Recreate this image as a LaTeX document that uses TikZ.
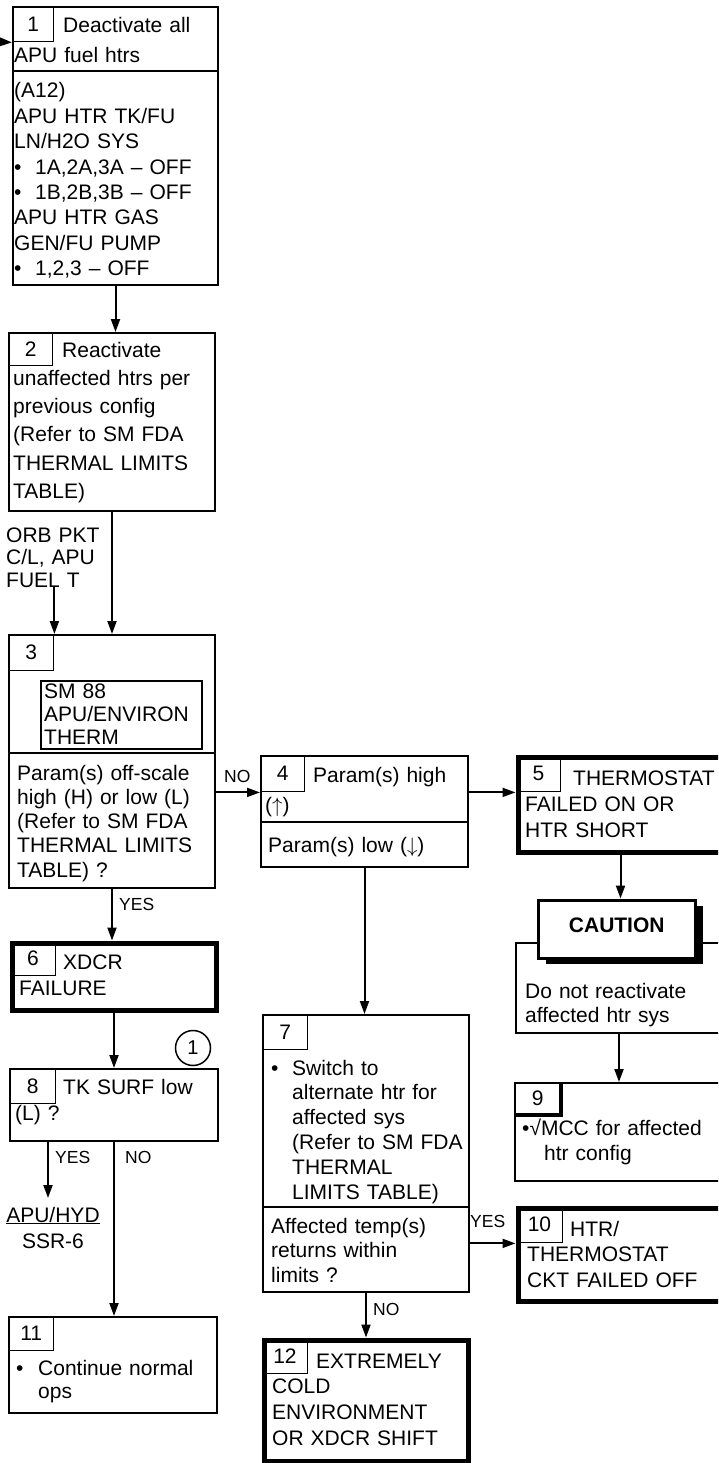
\documentclass[tikz,border=0pt]{standalone}
\usepackage{fontspec}
\setmainfont{Liberation Sans}
\usetikzlibrary{arrows.meta,shadows}
\newcommand{\blt}{\makebox[21pt][l]{•}}
\tikzset{
	stepbox/.style={draw, line width=2pt, rectangle, anchor=north west, inner sep=0pt},
	endbox/.style={stepbox, line width=5pt},
	numbox/.style={draw, line width=1.4pt, rectangle, anchor=north west, inner sep=0pt,
		font=\fontsize{21}{25}\selectfont},
	txt/.style={anchor=base west, inner sep=0pt, text width=250pt, align=left,
		font=\fontsize{21}{#1}\selectfont},
	txt/.default=25.4,
	lbl/.style={anchor=base west, inner sep=0pt, font=\fontsize{17.5}{20}\selectfont},
	arr/.style={line width=2pt, -{Triangle[length=13pt,width=9pt]}}
}

\begin{document}
\begin{tikzpicture}[x=1pt, y=-1pt]
			\useasboundingbox (0,0) rectangle (718,1463);
			\fill[white] (0,0) rectangle (718,1463);
			\clip (0,0) rectangle (718,1463);
			% left column
			\node[stepbox, minimum width=205pt, minimum height=278pt] (s1) at (12,6) {};
			\node[numbox, minimum width=41pt, minimum height=35pt] (n1) at (s1.north west) {1};
			\draw[line width=2pt] (s1.west |- 0,71) -- (s1.east |- 0,71);
			\node[txt] (t1a) at (14,33) {\hspace*{49pt}Deactivate all\\[4pt]APU fuel htrs};
			\node[txt] (t1b) at (14,98) {(A12)\\APU HTR TK/FU\\LN/H2O SYS\\\blt 1A,2A,3A – OFF\\\blt 1B,2B,3B – OFF\\APU HTR GAS\\GEN/FU PUMP\\\blt 1,2,3 – OFF};
			
			\node[stepbox, minimum width=206pt, minimum height=178pt] (s2) at (8,332) {};
			\node[numbox, minimum width=44pt, minimum height=33pt] (n2) at (s2.north west) {2};
			\node[txt=28.3] (t2) at (13,357) {\hspace*{49pt}Reactivate\\unaffected htrs per\\previous config\\(Refer to SM FDA\\THERMAL LIMITS\\TABLE)};
			
			\node[txt=22.5] (orb) at (6,542) {ORB PKT\\C/L, APU\\FUEL T};
			
			\node[stepbox, minimum width=206pt, minimum height=253pt] (s3) at (8,634) {};
			\node[numbox, minimum width=45pt, minimum height=36pt] (n3) at (s3.north west) {3};
			\node[stepbox, minimum width=161pt, minimum height=68pt] (sm) at (40,680) {};
			\node[txt=23] (tsm) at (44,698) {SM 88\\APU/ENVIRON\\THERM};
			\draw[line width=2pt] (s3.west |- 0,753) -- (s3.east |- 0,753);
			\node[txt=24.3] (t3) at (17,780) {Param(s) off-scale\\high (H) or low (L)\\(Refer to SM FDA\\THERMAL LIMITS\\TABLE) ?};
			
			\node[endbox, minimum width=204pt, minimum height=67pt] (s6) at (9.5,940.5) {};
			\node[numbox, minimum width=45.5pt, minimum height=34.5pt] (n6) at (s6.north west) {6};
			\node[txt=26] (t6) at (19,969) {\hspace*{44pt}XDCR\\FAILURE};
			
			\node[stepbox, minimum width=208pt, minimum height=72pt] (s8) at (9,1068) {};
			\node[numbox, minimum width=46pt, minimum height=35pt] (n8) at (s8.north west) {8};
			\node[txt=26] (t8) at (15,1094) {\hspace*{48pt}TK SURF low\\(L) ?};
			\node[draw, circle, line width=1.5pt, minimum size=35pt, inner sep=0pt,
				font=\fontsize{20}{24}\selectfont] (c1) at (193,1048) {1};
			
			\node[anchor=base, inner sep=0pt, text width=110pt, align=center,
				font=\fontsize{21}{26}\selectfont] (hyd) at (53,1222) {\underline{APU/HYD}\\SSR-6};
			\coordinate (hydtop) at (48,1198);
			
			\node[stepbox, minimum width=208pt, minimum height=96pt] (s11) at (8,1316) {};
			\node[numbox, minimum width=45pt, minimum height=34pt] (n11) at (s11.north west) {11};
			\node[txt=23] (t11) at (16,1375) {\makebox[22pt][l]{•}Continue normal\\\hspace*{22pt}ops};
			
			% middle column
			\node[stepbox, minimum width=207pt, minimum height=111pt] (s4) at (260,755) {};
			\node[numbox, minimum width=44pt, minimum height=36pt] (n4) at (s4.north west) {4};
			\node[txt] (t4a) at (265,782) {\hspace*{48pt}Param(s) high\\[4.6pt](\ensuremath{\uparrow})};
			\draw[line width=2pt] (s4.west |- 0,822) -- (s4.east |- 0,822);
			\node[txt] (t4b) at (268,852) {Param(s) low (\ensuremath{\downarrow})};
			
			\node[stepbox, minimum width=206pt, minimum height=277pt] (s7) at (262,1014) {};
			\node[numbox, minimum width=45pt, minimum height=35pt] (n7) at (s7.north west) {7};
			\node[txt=24.8] (t7a) at (271,1075) {\blt Switch to\\\hspace*{21pt}alternate htr for\\\hspace*{21pt}affected sys\\\hspace*{21pt}(Refer to SM FDA\\\hspace*{21pt}THERMAL\\\hspace*{21pt}LIMITS TABLE)};
			\draw[line width=2pt] (s7.west |- 0,1207) -- (s7.east |- 0,1207);
			\node[txt=24.5] (t7b) at (271,1233) {Affected temp(s)\\returns within\\limits ?};
			
			\node[endbox, minimum width=204pt, minimum height=121pt] (s12) at (261.5,1337.5) {};
			\node[numbox, minimum width=45.5pt, minimum height=35.5pt] (n12) at (s12.north west) {12};
			\node[txt=25.7] (t12) at (272,1368) {\hspace*{44pt}EXTREMELY\\COLD\\ENVIRONMENT\\OR XDCR SHIFT};
			
			% right column
			\node[endbox, minimum width=205pt, minimum height=95pt] (s5) at (515.5,754.5) {};
			\node[numbox, minimum width=44.5pt, minimum height=36.5pt] (n5) at (s5.north west) {5};
			\node[txt=26] (t5) at (525,785) {\hspace*{48pt}THERMOSTAT\\FAILED ON OR\\HTR SHORT};
			
			\node[stepbox, minimum width=206pt, minimum height=90pt] (cbody) at (515,942) {};
			\node[draw, line width=3.5pt, fill=white, rectangle, anchor=north west,
				minimum width=157pt, minimum height=58pt, inner sep=0pt, text depth=8pt,
				drop shadow={shadow xshift=8pt, shadow yshift=-6pt, fill=black, opacity=1},
				font=\fontsize{21}{25}\selectfont\bfseries] (cau) at (536.5,898.5) {CAUTION};
			\node[txt=24] (tc) at (525,998) {Do not reactivate\\affected htr sys};
			
			\node[stepbox, minimum width=208pt, minimum height=98pt] (s9) at (514,1082) {};
			\node[numbox, minimum width=46pt, minimum height=32pt] (n9) at (s9.north west) {9};
			\draw[line width=4pt] (n9.north east) -- (n9.south east) -- (n9.south west);
			\node[txt=25] (t9) at (522,1135) {•√MCC for affected\\\hspace*{22pt}htr config};
			
			\node[endbox, minimum width=205pt, minimum height=93pt] (s10) at (515.5,1205.5) {};
			\node[numbox, minimum width=46.5pt, minimum height=36.5pt] (n10) at (s10.north west) {10};
			\node[txt=25.5] (t10) at (527,1236) {\hspace*{43pt}HTR/\\THERMOSTAT\\CKT FAILED OFF};
			
			% labels
			\node[lbl] (no3) at (224,782) {NO};
			\node[lbl] (yes3) at (119,910) {YES};
			\node[lbl] (yes8) at (55,1163) {YES};
			\node[lbl] (no8) at (125,1163) {NO};
			\node[lbl] (yes7) at (470,1227) {YES};
			\node[lbl] (no7) at (373,1315) {NO};
			
			% connectors
			\coordinate (entry) at (-20,41);
			\draw[arr] (entry) -- (n1.south west);
			\draw[arr] (s1.south) -- (s1.south |- s2.north);
			\draw[arr] (s2.south) -- (s2.south |- s3.north);
			\draw[arr] (orb.south -| n3.north east) -- (n3.north east);
			\draw[arr] (n4.south west -| s3.east) -- (n4.south west);
			\draw[arr] (n4.south west -| s4.east) -- (n4.south west -| s5.west);
			\draw[arr] (s4.south) -- (s4.south |- s7.north);
			\draw[arr] (s5.south) -- (s5.south |- cau.north);
			\draw[arr] (cbody.south) -- (cbody.south |- s9.north);
			\draw[arr] (s3.south) -- (s3.south |- s6.north);
			\draw[arr] (s6.south) -- (s6.south |- s8.north);
			\draw[arr] (s8.south -| hydtop) -- (hydtop);
			\draw[arr] (s8.south) -- (s8.south |- s11.north);
			\draw[arr] (n10.south west -| s7.east) -- (n10.south west);
			\draw[arr] (s7.south) -- (s7.south |- s12.north);
		\end{tikzpicture}
\end{document}
